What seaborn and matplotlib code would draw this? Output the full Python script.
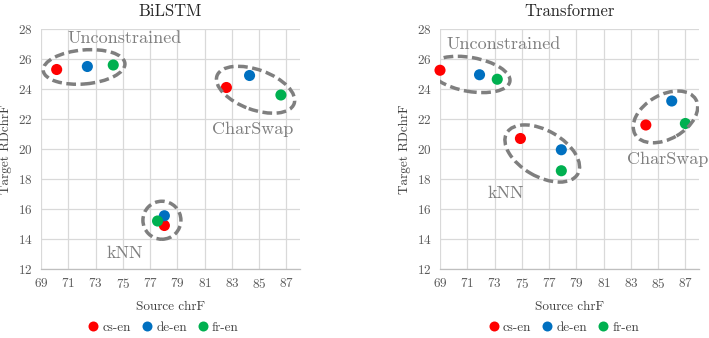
import matplotlib
matplotlib.use("Agg")
import matplotlib.pyplot as plt
from matplotlib.patches import Ellipse
from matplotlib.transforms import ScaledTranslation
import seaborn as sns
import pandas as pd

# ---------------- data ----------------
pairs = ["cs-en", "de-en", "fr-en"]
colors = ["#FF0000", "#0070C0", "#00B050"]
x_ticks = [69, 71, 73, 75, 77, 79, 81, 83, 85, 87]
y_ticks = [12, 14, 16, 18, 20, 22, 24, 26, 28]

bilstm_unc_src = [70.15, 72.4, 74.3]
bilstm_unc_tgt = [25.3, 25.5, 25.6]
bilstm_knn_src = [78.05, 78.05, 77.55]
bilstm_knn_tgt = [14.9, 15.55, 15.2]
bilstm_cs_src = [82.6, 84.3, 86.6]
bilstm_cs_tgt = [24.1, 24.9, 23.6]

trans_unc_src = [69.0, 71.9, 73.2]
trans_unc_tgt = [25.25, 24.95, 24.65]
trans_knn_src = [74.9, 77.9, 77.9]
trans_knn_tgt = [20.7, 19.95, 18.55]
trans_cs_src = [84.1, 86.0, 87.0]
trans_cs_tgt = [21.6, 23.2, 21.7]


def make_df(groups):
    rows = []
    for i, p in enumerate(pairs):
        for name, src, tgt in groups:
            rows.append({"pair": p, "method": name, "src": src[i], "tgt": tgt[i]})
    return pd.DataFrame(rows)


df_bilstm = make_df([("Unconstrained", bilstm_unc_src, bilstm_unc_tgt),
                     ("kNN", bilstm_knn_src, bilstm_knn_tgt),
                     ("CharSwap", bilstm_cs_src, bilstm_cs_tgt)])
df_trans = make_df([("Unconstrained", trans_unc_src, trans_unc_tgt),
                    ("kNN", trans_knn_src, trans_knn_tgt),
                    ("CharSwap", trans_cs_src, trans_cs_tgt)])

# ---------------- style ----------------
sns.set_theme(style="white")
plt.rcParams["font.family"] = ["cmr10", "DejaVu Serif"]
plt.rcParams["axes.formatter.use_mathtext"] = True
plt.rcParams["mathtext.fontset"] = "cm"

fig = plt.figure(figsize=(7.09, 3.38), dpi=100)
ax1 = fig.add_axes([41 / 709, 1 - 269 / 338, 259 / 709, 240 / 338])
ax2 = fig.add_axes([440 / 709, 1 - 269 / 338, 259 / 709, 240 / 338])

grey_text = "#7F7F7F"
tick_col = "#595959"


def style_axis(ax, title, df, ellipses, labels, leg_x):
    sns.scatterplot(data=df, x="src", y="tgt", hue="pair", hue_order=pairs,
                    palette=colors, s=64, edgecolor="none", ax=ax, zorder=3,
                    clip_on=False)
    ax.set_xlim(69, 88)
    ax.set_ylim(12, 28)
    ax.set_xticks(x_ticks)
    ax.set_yticks(y_ticks)
    ax.grid(True, color="#D9D9D9", linewidth=0.9)
    ax.set_axisbelow(True)
    for s in ["top", "right", "left"]:
        ax.spines[s].set_visible(False)
    ax.spines["bottom"].set_color("#BFBFBF")
    ax.spines["bottom"].set_linewidth(0.9)
    ax.tick_params(axis="both", labelsize=9.5, colors=tick_col, length=0, pad=6)
    ax.set_title(title, fontsize=12, color="#262626", pad=9)
    ax.set_xlabel("Source chrF", fontsize=9.5, color="#404040", labelpad=7)
    ax.set_ylabel("Target RDchrF", fontsize=9.5, color="#404040", labelpad=4)
    for (cx, cy, a, b, ang) in ellipses:
        tr = fig.dpi_scale_trans + ScaledTranslation(cx, cy, ax.transData)
        e = Ellipse((0, 0), width=2 * a / 100, height=2 * b / 100, angle=ang,
                    transform=tr, fill=False, edgecolor="#7F7F7F",
                    linewidth=2.5, linestyle=(0, (2.8, 1.3)), zorder=4)
        ax.add_patch(e)
    for (tx, ty, txt) in labels:
        ax.text(tx, ty, txt, fontsize=13, color=grey_text, ha="center",
                va="center", zorder=5)
    leg = ax.legend(loc="center", bbox_to_anchor=(leg_x, -0.245), ncol=3,
                    frameon=False, handletextpad=0.0, columnspacing=0.5,
                    handlelength=1.4, fontsize=9.5, markerscale=0.9,
                    borderaxespad=0)
    for t in leg.get_texts():
        t.set_color("#404040")


style_axis(ax1, "BiLSTM", df_bilstm,
           [(72.16, 25.47, 41, 17, 5), (84.74, 23.95, 41, 20, -20),
            (77.87, 15.25, 19, 19, 0)],
           [(75.1, 27.4, "Unconstrained"), (84.5, 21.33, "CharSwap"),
            (75.15, 13.07, "kNN")], 0.465)
style_axis(ax2, "Transformer", df_trans,
           [(71.2, 24.97, 40.5, 17, -10), (85.54, 22.14, 35, 22, 30),
            (76.5, 19.7, 41, 23, -30)],
           [(73.7, 27.0, "Unconstrained"), (85.68, 19.3, "CharSwap"),
            (73.84, 17.07, "kNN")], 0.47)

fig.savefig("out.png", dpi=100)
